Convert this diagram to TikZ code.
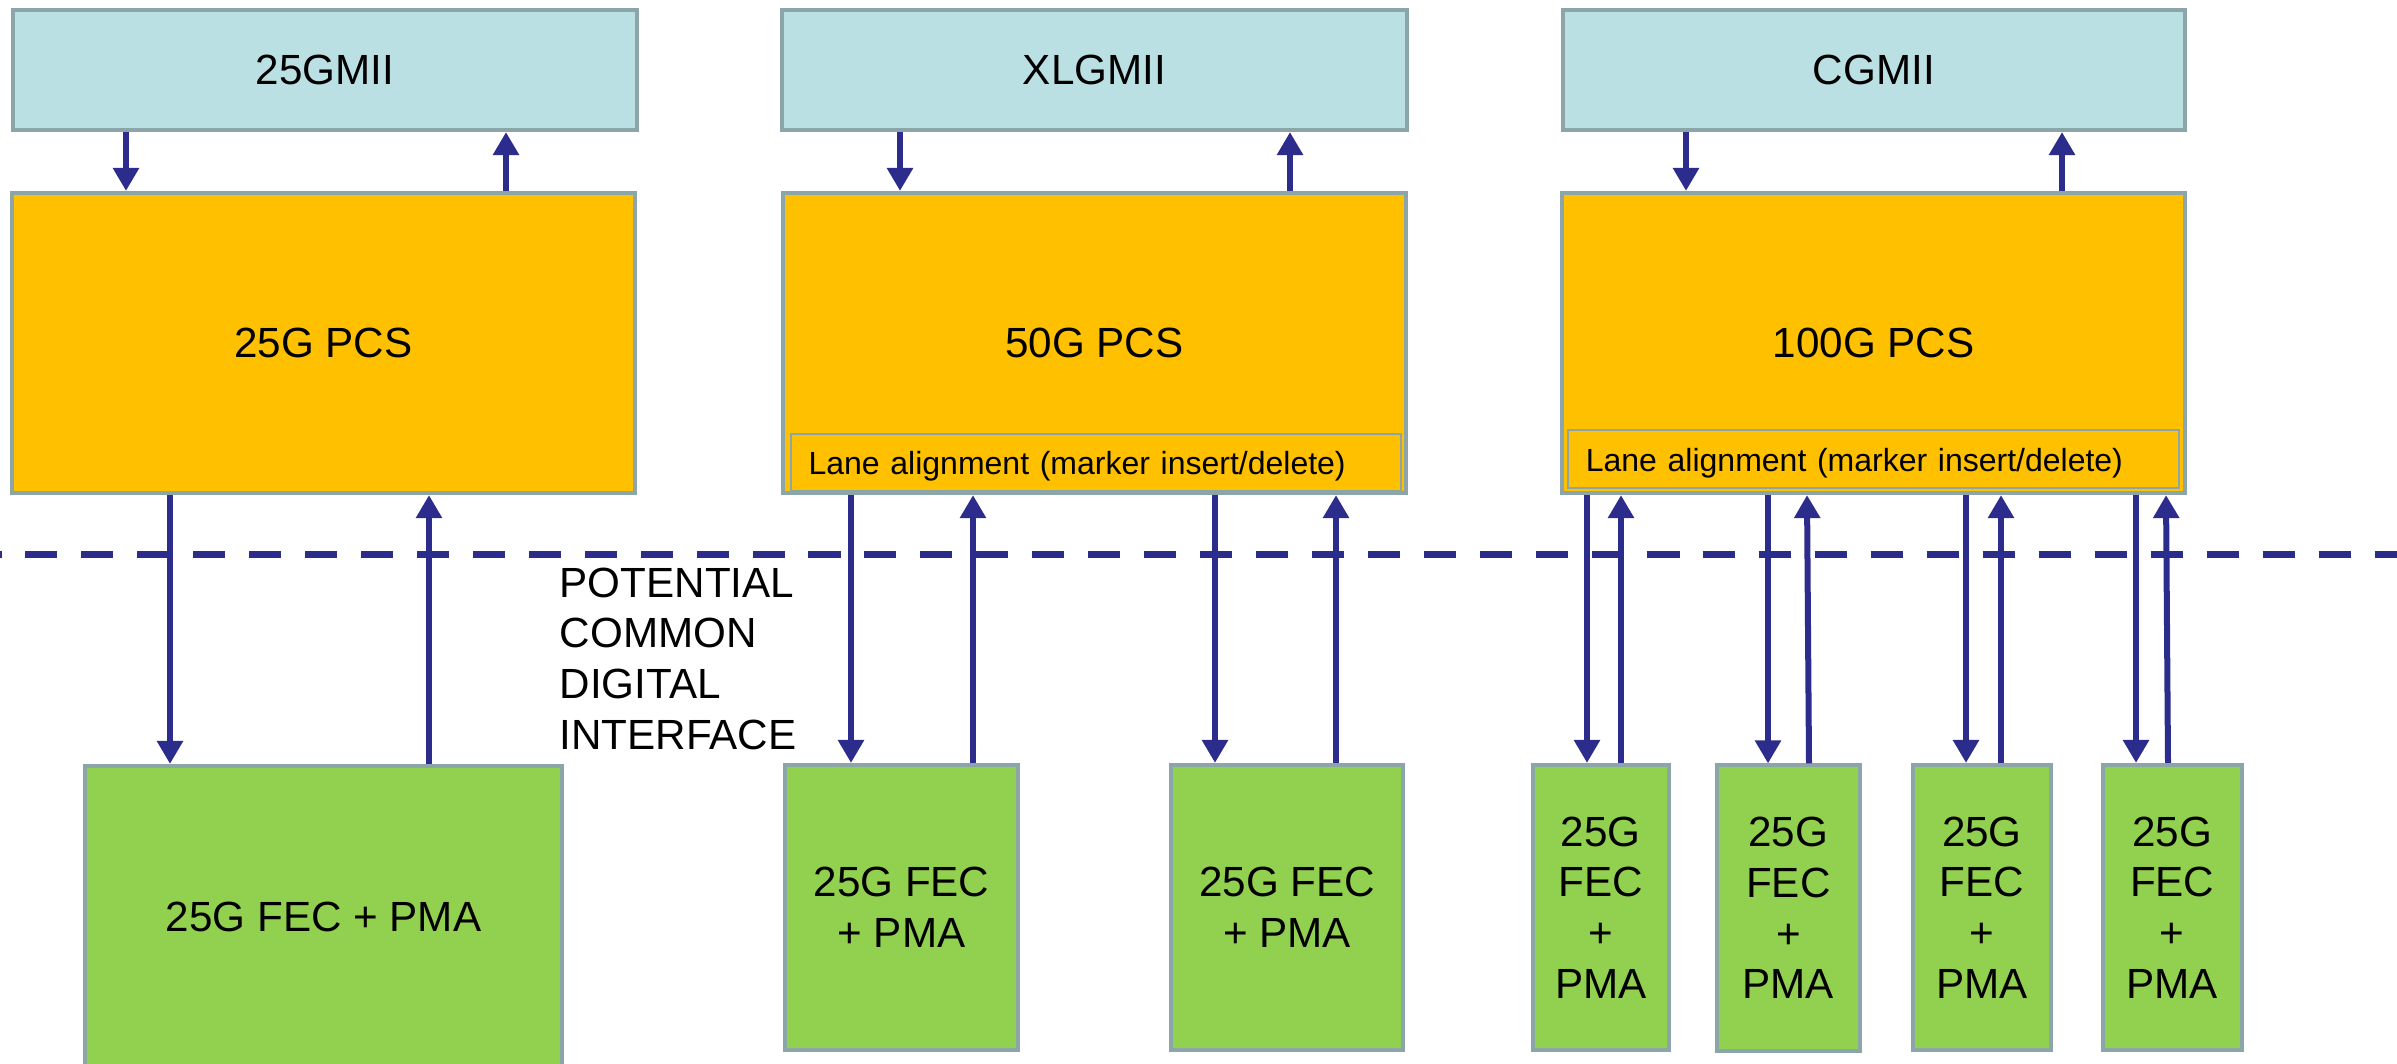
\documentclass[tikz,border=0pt]{standalone}
\usepackage{fontspec}
\setmainfont{Liberation Sans}
\usetikzlibrary{arrows.meta}
\definecolor{miifill}{RGB}{186,224,227}
\definecolor{pcsfill}{RGB}{255,192,0}
\definecolor{fecfill}{RGB}{146,208,80}
\definecolor{bord}{RGB}{139,165,168}
\definecolor{navy}{RGB}{44,44,140}
\begin{document}
\begin{tikzpicture}[x=0.01cm,y=-0.01cm,
  box/.style={draw=bord,line width=0.04cm,inner sep=0pt,align=center,font=\fontsize{12}{14.4}\selectfont},
  mii/.style={box,fill=miifill,minimum height=1.20cm},
  pcs/.style={box,fill=pcsfill,minimum height=3.00cm},
  fec/.style={box,fill=fecfill,minimum height=2.85cm},
  lane/.style={draw=bord,line width=0.02cm,fill=pcsfill,inner xsep=0.18cm,inner ysep=0pt,align=left,font=\fontsize{9.1}{11}\selectfont,minimum height=0.57cm,text height=7.1pt,text depth=0pt},
  arr/.style={navy,line width=0.06cm,-{Triangle[width=0.25cm,length=0.23cm]}},
  divider/.style={navy,line width=0.07cm,dash pattern=on 0.32cm off 0.239cm,dash phase=0.305cm},
  note/.style={inner sep=0pt,align=left,anchor=north west,font=\fontsize{12}{14.4}\selectfont}]
\useasboundingbox (0,0) rectangle (2397,1063);

% 25G column
\node[mii,minimum width=6.24cm] (gmii1) at (325,70) {25GMII};
\node[pcs,minimum width=6.23cm] (pcs1) at (323.5,343) {25G PCS};
\node[box,fill=fecfill,minimum width=4.77cm,minimum height=3.02cm] (fec1) at (323.5,917) {25G FEC + PMA};

% 50G column
\node[mii,minimum width=6.24cm] (gmii2) at (1094.5,70) {XLGMII};
\node[pcs,minimum width=6.23cm] (pcs2) at (1094.5,343) {50G PCS};
\node[lane,text width=5.74cm] (lane2) at (1095.75,462.5) {Lane alignment (marker insert/delete)};
\node[fec,minimum width=2.33cm] (fec2a) at (901.5,907.5) {25G FEC\\+ PMA};
\node[fec,minimum width=2.32cm] (fec2b) at (1287,907.5) {25G FEC\\+ PMA};

% 100G column
\node[mii,minimum width=6.22cm] (gmii3) at (1873.75,70) {CGMII};
\node[pcs,minimum width=6.23cm] (pcs3) at (1873.5,343) {100G PCS};
\node[lane,text width=5.75cm] (lane3) at (1873.5,459) {Lane alignment (marker insert/delete)};
\node[fec,minimum width=1.355cm] (fec3a) at (1600.75,907.5) {25G\\FEC\\+\\PMA};
\node[fec,minimum width=1.43cm] (fec3b) at (1788.3,908) {25G\\FEC\\+\\PMA};
\node[fec,minimum width=1.38cm] (fec3c) at (1981.9,907.5) {25G\\FEC\\+\\PMA};
\node[fec,minimum width=1.39cm] (fec3d) at (2172.2,907.5) {25G\\FEC\\+\\PMA};

% interface line and label
\coordinate (dl) at (0,554);
\coordinate (dr) at (2397,554);
\draw[divider] (dl) -- (dr);
\node[note] (pcdi) at (559,567) {POTENTIAL\\COMMON\\DIGITAL\\INTERFACE};

% MII <-> PCS arrows
\draw[arr] (126,0 |- gmii1.south) -- (126,0 |- pcs1.north);
\draw[arr] (506,0 |- pcs1.north) -- (506,0 |- gmii1.south);
\draw[arr] (900,0 |- gmii2.south) -- (900,0 |- pcs2.north);
\draw[arr] (1290,0 |- pcs2.north) -- (1290,0 |- gmii2.south);
\draw[arr] (1686,0 |- gmii3.south) -- (1686,0 |- pcs3.north);
\draw[arr] (2062,0 |- pcs3.north) -- (2062,0 |- gmii3.south);

% PCS <-> FEC arrows
\draw[arr] (170,0 |- pcs1.south) -- (170,0 |- fec1.north);
\draw[arr] (429,0 |- fec1.north) -- (429,0 |- pcs1.south);

\draw[arr] (851,0 |- pcs2.south) -- (851,0 |- fec2a.north);
\draw[arr] (973,0 |- fec2a.north) -- (973,0 |- pcs2.south);
\draw[arr] (1215,0 |- pcs2.south) -- (1215,0 |- fec2b.north);
\draw[arr] (1336,0 |- fec2b.north) -- (1336,0 |- pcs2.south);

\draw[arr] (1587,0 |- pcs3.south) -- (1587,0 |- fec3a.north);
\draw[arr] (1621,0 |- fec3a.north) -- (1621,0 |- pcs3.south);
\draw[arr] (1768,0 |- pcs3.south) -- (1768,0 |- fec3b.north);
\draw[arr] (1809,0 |- fec3b.north) -- (1807,0 |- pcs3.south);
\draw[arr] (1966,0 |- pcs3.south) -- (1966,0 |- fec3c.north);
\draw[arr] (2001,0 |- fec3c.north) -- (2001,0 |- pcs3.south);
\draw[arr] (2136,0 |- pcs3.south) -- (2136,0 |- fec3d.north);
\draw[arr] (2168,0 |- fec3d.north) -- (2166,0 |- pcs3.south);
\end{tikzpicture}
\end{document}
